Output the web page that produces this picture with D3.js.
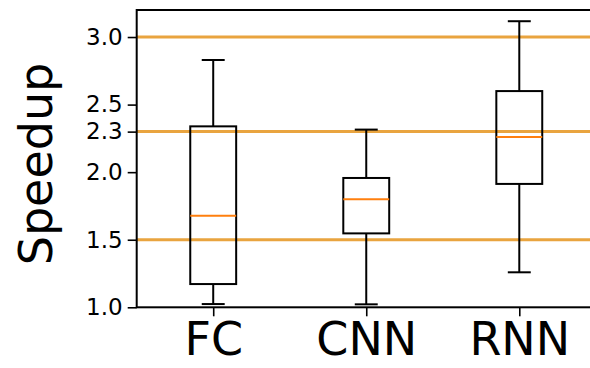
<!DOCTYPE html>
<html><head><meta charset="utf-8">
<script src="https://cdn.jsdelivr.net/npm/d3@7"></script>
<style>body{margin:0;background:#fff}svg{display:block}</style>
</head><body>
<svg id="c" width="590" height="368"></svg>
<script>
const categories = ["FC", "CNN", "RNN"];
const whiskerLow  = [1.024, 1.022, 1.259];
const q1          = [1.172, 1.547, 1.913];
const median      = [1.677, 1.800, 2.260];
const q3          = [2.339, 1.957, 2.600];
const whiskerHigh = [2.830, 2.315, 3.117];
const refLines    = [3.0, 2.3, 1.5];
const yTicks      = [1.0, 1.5, 2.0, 2.3, 2.5, 3.0];
const yLabel = "Speedup";

const svg = d3.select("#c");
const L = 136.7, T = 10, B = 307.3, R = 595.8;
const x = d3.scaleLinear().domain([0.5, 3.5]).range([L, R]);
const y = d3.scaleLinear().domain([1.0, 3.2]).range([B, T]);
const boxW = 0.3, capW = 0.15;
const font = "DejaVu Sans, sans-serif";

// reference lines
svg.selectAll("line.ref").data(refLines).enter().append("line")
  .attr("x1", L).attr("x2", R)
  .attr("y1", d => y(d)).attr("y2", d => y(d))
  .attr("stroke", "#e9a43f").attr("stroke-width", 3);

const data = categories.map((c, i) => ({c, i: i + 1, lo: whiskerLow[i], q1: q1[i], md: median[i], q3: q3[i], hi: whiskerHigh[i]}));
const g = svg.selectAll("g.box").data(data).enter().append("g");
// whiskers
g.append("line").attr("x1", d => x(d.i)).attr("x2", d => x(d.i))
  .attr("y1", d => y(d.q3)).attr("y2", d => y(d.hi)).attr("stroke", "#000").attr("stroke-width", 2);
g.append("line").attr("x1", d => x(d.i)).attr("x2", d => x(d.i))
  .attr("y1", d => y(d.q1)).attr("y2", d => y(d.lo)).attr("stroke", "#000").attr("stroke-width", 2);
// caps
g.append("line").attr("x1", d => x(d.i - capW/2)).attr("x2", d => x(d.i + capW/2))
  .attr("y1", d => y(d.hi)).attr("y2", d => y(d.hi)).attr("stroke", "#000").attr("stroke-width", 2);
g.append("line").attr("x1", d => x(d.i - capW/2)).attr("x2", d => x(d.i + capW/2))
  .attr("y1", d => y(d.lo)).attr("y2", d => y(d.lo)).attr("stroke", "#000").attr("stroke-width", 2);
// box
g.append("rect").attr("x", d => x(d.i - boxW/2)).attr("width", d => x(d.i + boxW/2) - x(d.i - boxW/2))
  .attr("y", d => y(d.q3)).attr("height", d => y(d.q1) - y(d.q3))
  .attr("fill", "none").attr("stroke", "#000").attr("stroke-width", 2);
// median
g.append("line").attr("x1", d => x(d.i - boxW/2)).attr("x2", d => x(d.i + boxW/2))
  .attr("y1", d => y(d.md)).attr("y2", d => y(d.md)).attr("stroke", "#ff7f0e").attr("stroke-width", 2);

// axes
const yAxis = d3.axisLeft(y).tickValues(yTicks).tickFormat(d3.format(".1f")).tickSize(9).tickPadding(5);
const ya = svg.append("g").attr("transform", `translate(${L},0)`).call(yAxis);
ya.select(".domain").remove();
ya.selectAll(".tick line").attr("stroke", "#000").attr("stroke-width", 1.6);
ya.selectAll("text").attr("font-family", font).attr("font-size", 23).attr("fill", "#000");

const xAxis = d3.axisBottom(x).tickValues([1, 2, 3]).tickFormat(d => categories[d - 1]).tickSize(9).tickPadding(6);
const xa = svg.append("g").attr("transform", `translate(0,${B})`).call(xAxis);
xa.select(".domain").remove();
xa.selectAll(".tick line").attr("stroke", "#000").attr("stroke-width", 1.6);
xa.selectAll("text").attr("font-family", font).attr("font-size", 46).attr("fill", "#000");

// frame
svg.append("rect").attr("x", L).attr("y", T).attr("width", R - L).attr("height", B - T)
  .attr("fill", "none").attr("stroke", "#000").attr("stroke-width", 2);

svg.append("text").attr("transform", `translate(52,164) rotate(-90)`)
  .attr("text-anchor", "middle").attr("font-family", font).attr("font-size", 46).attr("fill", "#000")
  .text(yLabel);
</script>
</body></html>
